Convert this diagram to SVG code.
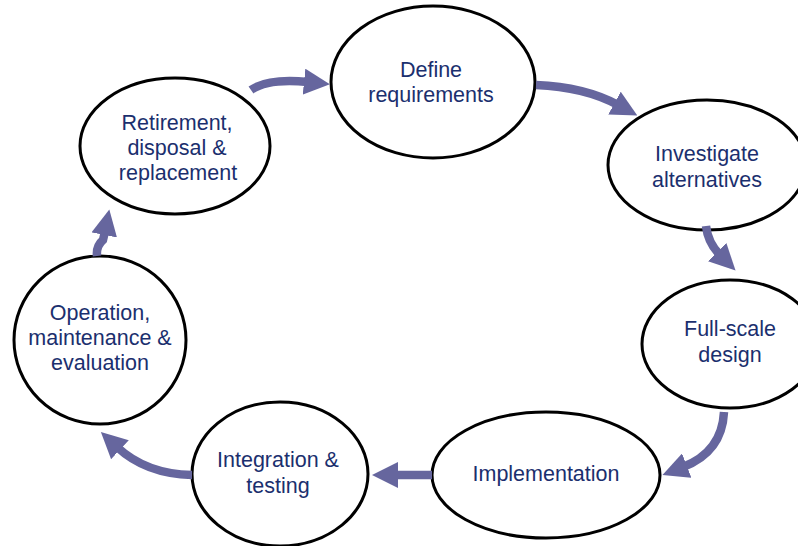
<svg xmlns="http://www.w3.org/2000/svg" width="798" height="546" viewBox="0 0 798 546">
<style>
.n ellipse{fill:#fff;stroke:#000;stroke-width:3}
.n text{font-family:"Liberation Sans",Arial,sans-serif;font-size:21.5px;fill:#1b2f6e;text-anchor:middle}
.c path{fill:none;stroke:#66669e;stroke-width:8.5}
</style>
<defs>
<marker id="ah" markerUnits="userSpaceOnUse" markerWidth="26" markerHeight="26" refX="4" refY="13" orient="auto" viewBox="0 0 26 26">
<path d="M0,0 L26,13 L0,26 Z" fill="#66669e"/>
</marker>
</defs>
<rect width="798" height="546" fill="#fff"/>
<g id="n1" class="n"><ellipse cx="433" cy="82" rx="102" ry="76"/><text x="431" y="77">Define</text><text x="431" y="102">requirements</text></g>
<g id="n2" class="n"><ellipse cx="707" cy="165" rx="99" ry="65"/><text x="707" y="161">Investigate</text><text x="707" y="187">alternatives</text></g>
<g id="n3" class="n"><ellipse cx="730" cy="344" rx="88" ry="64"/><text x="730" y="336">Full-scale</text><text x="730" y="362">design</text></g>
<g id="n4" class="n"><ellipse cx="546" cy="475" rx="114" ry="63"/><text x="546" y="481">Implementation</text></g>
<g id="n5" class="n"><ellipse cx="280" cy="474" rx="88" ry="72"/><text x="278" y="467">Integration &amp;</text><text x="278" y="493">testing</text></g>
<g id="n6" class="n"><ellipse cx="100" cy="340" rx="86" ry="84"/><text x="100" y="320">Operation,</text><text x="100" y="345">maintenance &amp;</text><text x="100" y="370">evaluation</text></g>
<g id="n7" class="n"><ellipse cx="175" cy="146" rx="95" ry="68"/><text x="177" y="130">Retirement,</text><text x="177" y="155">disposal &amp;</text><text x="178" y="180">replacement</text></g>
<g id="connectors" class="c">
<path d="M251,90 Q268,78 308,82" marker-end="url(#ah)"/>
<path d="M536,85 Q585,87 618,105" marker-end="url(#ah)"/>
<path d="M706,226 Q708,243 720,255" marker-end="url(#ah)"/>
<path d="M724,412 Q722,452 683,467" marker-end="url(#ah)"/>
<path d="M432,475 L394,475" marker-end="url(#ah)"/>
<path d="M192,475 Q146,474 117,447" marker-end="url(#ah)"/>
<path d="M97,256 Q96,246 103,240 Q104,236 105,231" marker-end="url(#ah)"/>
</g>
</svg>
